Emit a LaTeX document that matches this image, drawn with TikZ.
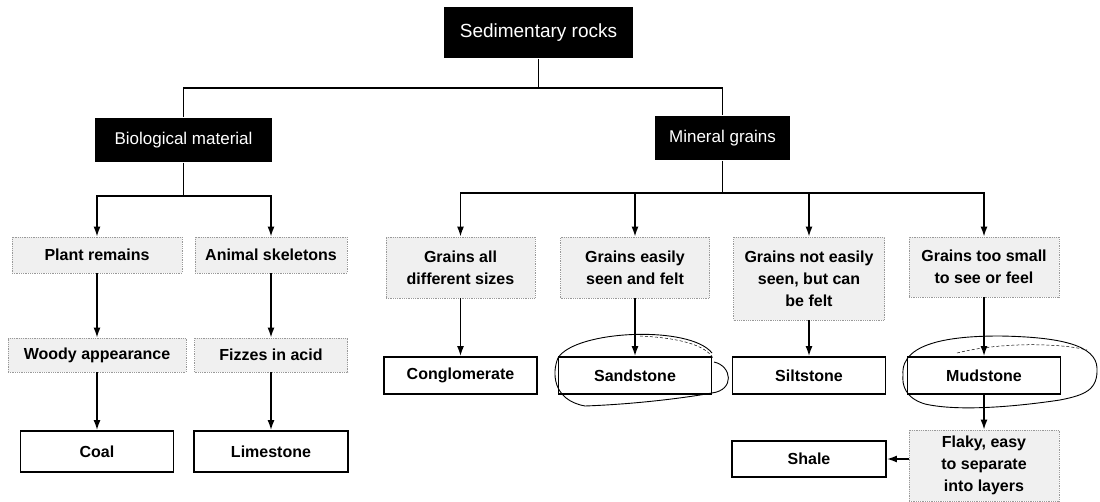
\documentclass[tikz,border=0pt]{standalone}
\usepackage{fontspec}
\setmainfont{Liberation Sans}
\usetikzlibrary{arrows.meta}

\begin{document}
\begin{tikzpicture}[x=1pt,y=-1pt,line width=1.5pt,
	topic/.style={fill=black,text=white,inner sep=0pt,font=\fontsize{17}{20}\selectfont},
	clue/.style={draw=gray!80,densely dotted,line width=0.8pt,fill=gray!12,inner sep=0pt,align=center,font=\bfseries\fontsize{16}{22}\selectfont},
	rock/.style={draw,line width=1.8pt,fill=white,inner sep=0pt,minimum width=153pt,minimum height=37pt,font=\bfseries\fontsize{16}{20}\selectfont},
	arr/.style={-{Latex[length=10pt,width=7pt]}},
	ring/.style={line width=0.9pt}]
	\useasboundingbox (0,0) rectangle (1100,502);
	\node[topic,minimum width=189pt,minimum height=51pt,font=\fontsize{19}{22}\selectfont] (sed) at (538.5,32.5) {Sedimentary rocks};
	\node[topic,minimum width=177pt,minimum height=44pt] (bio) at (183.5,140) {Biological material};
	\node[topic,minimum width=135pt,minimum height=44pt] (min) at (722.5,138) {Mineral grains};
	\node[clue,minimum width=170pt,minimum height=36pt] (plant) at (97,255) {Plant remains};
	\node[clue,minimum width=152pt,minimum height=36pt] (animal) at (271,255) {Animal skeletons};
	\node[clue,minimum width=149pt,minimum height=61pt] (all) at (460.5,267.5) {Grains all\\different sizes};
	\node[clue,minimum width=149pt,minimum height=61pt] (easy) at (635,267.5) {Grains easily\\seen and felt};
	\node[clue,minimum width=151pt,minimum height=83pt] (hard) at (809,278.5) {Grains not easily\\seen, but can\\be felt};
	\node[clue,minimum width=150pt,minimum height=60pt] (small) at (984,267) {Grains too small\\to see or feel};
	\node[clue,minimum width=178pt,minimum height=34pt] (woody) at (97,355) {Woody appearance};
	\node[clue,minimum width=153pt,minimum height=34pt] (fizzes) at (271,355) {Fizzes in acid};
	\node[rock] (cong) at (460.5,375.5) {Conglomerate};
	\node[rock] (sand) at (635,375.5) {Sandstone};
	\node[rock] (silt) at (809,375.5) {Siltstone};
	\node[rock] (mud) at (984,375.5) {Mudstone};
	\node[rock,minimum height=41pt] (coal) at (97,451.5) {Coal};
	\node[rock,minimum width=154pt,minimum height=41pt] (lime) at (271,451.5) {Limestone};
	\node[rock,minimum width=154pt,minimum height=36pt] (shale) at (809,459) {Shale};
	\node[clue,minimum width=150pt,minimum height=71pt] (flaky) at (984,465.5) {Flaky, easy\\to separate\\into layers};
	\coordinate (top) at (538.5,88);
	\coordinate (bj) at (183.5,196);
	\coordinate (mj) at (722.5,193);
	\draw (sed) -- (top);
	\draw (bio) |- (top) -| (min);
	\draw (bio) -- (bj);
	\draw (min) -- (mj);
	\foreach \n in {plant,animal} \draw[arr] (bj) -| (\n);
	\foreach \n in {all,easy,hard,small} \draw[arr] (mj) -| (\n);
	\foreach \a/\b in {plant/woody,woody/coal,animal/fizzes,fizzes/lime,all/cong,easy/sand,hard/silt,small/mud,mud/flaky}
		\draw[arr] (\a) -- (\b);
	\draw[arr] (flaky.west |- shale) -- (shale);
	\draw[ring] (712,353) .. controls (690,325) and (575,330) .. (558,358) .. controls (552,372) and (552,400) .. (585,406) .. controls (640,404) and (690,397) .. (712,393) .. controls (735,390) and (732,366) .. (714,362);
	\draw[ring,densely dashed,line width=0.5pt] (640,336) .. controls (680,338) and (705,345) .. (713,358);
	\draw[ring] (903,375) .. controls (900,340) and (960,336) .. (1000,336) .. controls (1060,337) and (1096,345) .. (1097,368) .. controls (1098,390) and (1085,395) .. (1060,400) .. controls (1020,406) and (960,412) .. (925,404) .. controls (905,398) and (902,385) .. (903,375);
	\draw[ring,densely dashed,line width=0.5pt] (957,353) .. controls (1000,342) and (1060,343) .. (1087,350);
\end{tikzpicture}
\end{document}
